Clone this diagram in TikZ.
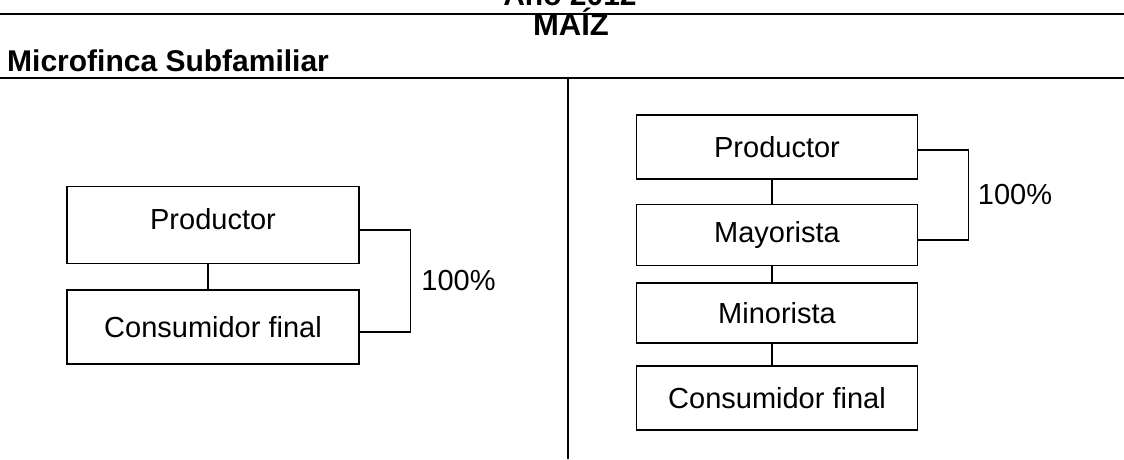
\documentclass[tikz,border=0pt]{standalone}
\usepackage{fontspec}
\setmainfont{Liberation Sans}
\usetikzlibrary{positioning, calc}

\begin{document}
\begin{tikzpicture}[x=1pt, y=-1pt,
    block/.style={draw, line width=1.4pt, font=\fontsize{29}{34}\selectfont, inner sep=0pt},
    lbox/.style={block, minimum width=292pt},
    rbox/.style={block, minimum width=281pt},
    link/.style={line width=1.4pt},
    rule/.style={line width=1.6pt},
    title/.style={font=\fontsize{30}{36}\selectfont\bfseries, inner sep=0pt},
    share/.style={font=\fontsize{29}{34}\selectfont, anchor=west, inner sep=0pt}
]
    \useasboundingbox (0,0) rectangle (1124,459);

    % headings and rules
    \draw (570,5) node[title, anchor=base] (anio) {Año 2012};
    \draw (571,35) node[title, font=\fontsize{31}{36}\selectfont\bfseries, anchor=base] (maiz) {MAÍZ};
    \draw (7,71) node[title, anchor=base west] (tipo) {Microfinca Subfamiliar};
    \draw[rule] (0,14) -- (1124,14);
    \draw[rule] (0,78) -- (1124,78);
    \draw[link] (568,78) -- (568,459);

    % left chain
    \draw (213,225) node[lbox, minimum height=77pt, text depth=12pt] (prodA) {Productor};
    \draw (213,327) node[lbox, minimum height=74pt] (consA) {Consumidor final};
    \draw[link] ([xshift=-5pt]prodA.south) -- ([xshift=-5pt]consA.north);
    \draw[link] ([yshift=-5pt]prodA.east) -- ++(51,0) |- ([yshift=-5pt]consA.east)
        node[share, pos=.25, xshift=10pt] (pctA) {100\%};

    % right chain
    \draw (777,147) node[rbox, minimum height=64pt] (prodB) {Productor};
    \draw (777,235) node[rbox, minimum height=61pt] (mayB) {Mayorista};
    \draw (777,313) node[rbox, minimum height=60pt] (minB) {Minorista};
    \draw (777,398) node[rbox, minimum height=64pt] (consB) {Consumidor final};
    \foreach \a/\b in {prodB/mayB, mayB/minB, minB/consB} {
        \draw[link] ([xshift=-5pt]\a.south) -- ([xshift=-5pt]\b.north);
    }
    \draw[link] ([yshift=-3pt]prodB.east) -- ++(50,0) |- ([yshift=-5pt]mayB.east)
        node[share, pos=.25, xshift=9pt] (pctB) {100\%};

\end{tikzpicture}
\end{document}
